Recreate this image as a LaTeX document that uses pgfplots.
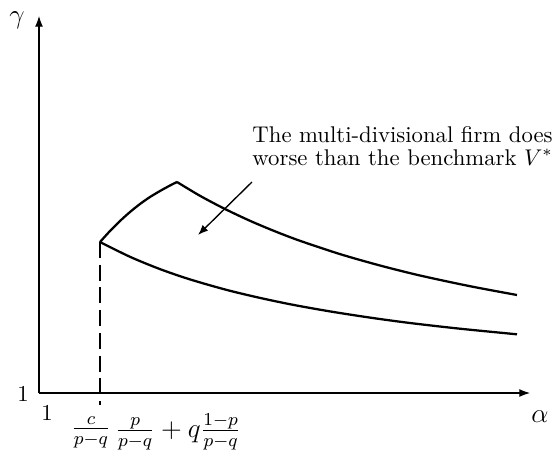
\documentclass[border=0pt]{standalone}
\usepackage{pgfplots}
\pgfplotsset{compat=1.18}
\usetikzlibrary{arrows.meta}

\begin{document}
\begin{tikzpicture}
\begin{axis}[
    x=0.44pt, y=0.44pt,
    axis lines*=left,
    axis line style={line width=0.45pt, -{Latex[length=4.7pt,width=3.5pt]}},
    xmin=0, xmax=491,
    ymin=0, ymax=377,
    xtick=\empty, ytick=\empty,
    clip=false,
]
% upper boundary, rising part
\addplot[line width=1pt, smooth] coordinates {
    (61,151) (71,162) (81,172) (91,181) (101,189) (111,196) (121,202) (131,207.5) (138,211)
};
% upper boundary, falling part
\addplot[line width=1pt, smooth] coordinates {
    (138,211) (161,197.2) (186,184) (211,172.2) (236,161.7) (261,152.2)
    (301,138.9) (341,127.5) (381,117.5) (431,106.8) (478,98)
};
% lower boundary
\addplot[line width=1pt, smooth] coordinates {
    (61,151) (91,136.2) (121,123.9) (151,113.6) (188,103) (221,95.1)
    (254,88.2) (291,81.6) (331,75.4) (371,70) (421,64.3) (478,58.7)
};
% dashed threshold
\addplot[line width=1pt, dash pattern=on 7pt off 3pt] coordinates {
    (61,151) (61,-12)
};
% annotation arrow
\addplot[line width=0.6pt, -{Latex[length=4.5pt,width=3.5pt]}] coordinates {
    (213,211) (159,158)
};

\node[anchor=base west, inner sep=0pt] at (axis cs:213,250.3) {The multi-divisional firm does};
\node[anchor=base west, inner sep=0pt] at (axis cs:213,228) {worse than the benchmark $V^*$};

\node[font=\large] at (axis cs:-22,373) {$\gamma$};
\node[font=\large] at (axis cs:501,-24) {$\alpha$};
\node at (axis cs:-16,-1) {$1$};
\node at (axis cs:8,-20) {$1$};
\node[font=\large] at (axis cs:52,-39) {$\frac{c}{p-q}$};
\node[font=\large] at (axis cs:139,-39) {$\frac{p}{p-q}+q\frac{1-p}{p-q}$};

\coordinate (bl) at (axis cs:-39,-59);
\coordinate (tr) at (axis cs:514,393);
\end{axis}
\pgfresetboundingbox
\path[use as bounding box] (bl) rectangle (tr);
\end{tikzpicture}
\end{document}
